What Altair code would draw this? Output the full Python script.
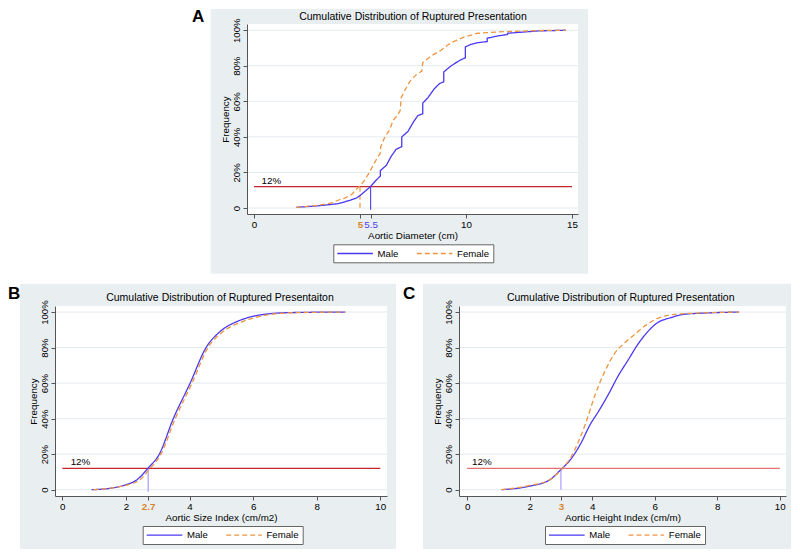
import altair as alt
import pandas as pd

FONT = "Liberation Sans"
BLUE = "#4a38f2"
BLUE_TXT = "#4a3cf0"
ORANGE = "#ee9540"
ORANGE_TXT = "#d9842a"
LILAC = "#a89cff"
RED = "#c3262b"
RED_C = "#e2716d"
GREY_BG = "#e9eff1"
GRID = "#e4ebee"
AXIS = "#555555"

SEXES = ["Male", "Female"]
THRESHOLD = 12
Y_TICKS = [0, 20, 40, 60, 80, 100]

# ---------------- Panel A : Aortic Diameter (cm) ----------------
a_male_x = [2.0, 3.0, 3.96, 4.5, 4.83, 5.0, 5.25, 5.49, 5.75, 5.96, 5.96, 6.24, 6.47, 6.7,
            6.97, 6.97, 7.26, 7.5, 7.73, 7.96, 7.96, 8.2, 8.5, 8.75, 8.95, 8.95, 9.3, 9.7,
            9.97, 9.97, 10.23, 10.55, 11.0, 11.0, 11.5, 11.96, 11.96, 12.74, 13.4, 14.7]
a_male_y = [0.4, 1.2, 2.4, 4.2, 5.6, 7.0, 9.5, 12.0, 15.5, 18.0, 21.0, 24.0, 29.0, 33.0,
            34.5, 40.0, 43.0, 48.0, 52.0, 53.0, 59.0, 62.0, 67.0, 70.0, 71.0, 76.5, 80.0, 83.0,
            84.5, 90.6, 92.0, 93.0, 93.6, 95.5, 96.8, 97.6, 98.3, 99.0, 99.6, 100.0]
a_female_x = [2.0, 3.0, 3.65, 4.0, 4.28, 4.6, 4.95, 5.15, 5.38, 5.6, 5.85, 5.95, 5.98, 6.16,
              6.4, 6.55, 6.79, 6.9, 6.94, 7.1, 7.34, 7.65, 7.92, 7.96, 8.35, 8.82, 9.3, 9.92,
              10.55, 11.8, 13.4, 14.7]
a_female_y = [0.3, 1.5, 2.8, 4.5, 5.6, 7.5, 12.0, 14.5, 18.8, 23.5, 29.0, 30.5, 34.5, 39.6,
              44.0, 49.0, 52.6, 55.0, 62.0, 65.8, 71.0, 75.0, 77.0, 81.8, 85.5, 88.7, 93.0, 96.2,
              98.3, 99.2, 99.8, 100.0]
a_ticks = [0, 5, 5.5, 10, 15]
a_cuts = [5, 5.5]

# ---------------- Panel B : Aortic Size Index (cm/m2) ----------------
b_male_x = [0.92, 1.5, 2.0, 2.34, 2.69, 3.05, 3.49, 4.02, 4.52, 4.96, 5.54, 6.0, 6.5, 7.2, 8.9]
b_male_y = [0.0, 0.8, 2.8, 5.5, 12.0, 20.0, 40.0, 60.0, 80.0, 89.0, 95.0, 97.6, 99.0, 99.7, 100.0]
b_female_x = [0.98, 2.0, 2.44, 2.71, 3.1, 3.55, 4.08, 4.58, 5.02, 5.65, 6.12, 6.64, 7.27, 8.9]
b_female_y = [0.0, 2.5, 5.5, 11.0, 20.0, 40.0, 60.0, 80.0, 88.5, 94.5, 97.2, 98.9, 99.6, 100.0]
b_ticks = [0, 2, 2.7, 4, 6, 8, 10]
b_cuts = [2.7]

# ---------------- Panel C : Aortic Height Index (cm/m) ----------------
c_male_x = [1.1, 2.0, 2.63, 3.01, 3.31, 3.62, 3.94, 4.2, 4.52, 4.83, 5.15, 5.46, 5.78, 6.09,
            6.51, 6.93, 7.56, 8.7]
c_male_y = [0.0, 2.0, 5.4, 11.5, 17.0, 25.5, 36.8, 44.0, 53.7, 64.0, 73.0, 81.8, 89.0, 94.0,
            96.8, 98.7, 99.4, 100.0]
c_female_x = [1.1, 2.0, 2.63, 3.01, 3.31, 3.57, 3.78, 4.1, 4.41, 4.73, 5.04, 5.36, 5.67, 6.09,
              6.62, 7.35, 8.7]
c_female_y = [0.0, 2.4, 5.4, 11.3, 18.0, 27.4, 36.8, 53.7, 66.8, 77.0, 82.7, 87.4, 92.0, 96.4,
              98.7, 99.4, 100.0]
c_ticks = [0, 2, 3, 4, 6, 8, 10]
c_cuts = [3]

LEGEND_PATH = "M-1.25,0H7.65"


def panel(letter, title, xtitle, mx, my, fx, fy, ticks, specials, cuts, cut_styles,
          xmax, lbl_x, cut_bottom, geo, red, interp):
    w, h = geo["w"], geo["h"]
    curves = pd.DataFrame({
        "x": mx + fx,
        "y": my + fy,
        "sex": ["Male"] * len(mx) + ["Female"] * len(fx),
        "order": list(range(len(mx))) + list(range(len(fx))),
    })

    color_cond = [{"test": f"datum.value == {v}", "value": c} for v, c, _ in specials]
    weight_cond = [{"test": f"datum.value == {v}", "value": wt} for v, _, wt in specials]
    xaxis = alt.Axis(
        values=ticks, title=xtitle, grid=False, format=".1~f",
        domainColor=AXIS, tickColor=AXIS, tickSize=4, labelPadding=1.5,
        labelFont=FONT, labelFontSize=9.8, labelOverlap=False, labelFlush=False,
        labelColor={"condition": color_cond, "value": "black"},
        labelFontWeight={"condition": weight_cond, "value": "normal"},
        titleFont=FONT, titleFontSize=9.8, titleFontWeight="normal", titleColor="black",
        titlePadding=1, zindex=1,
    )
    yaxis = alt.Axis(
        values=Y_TICKS, title="Frequency", grid=False,
        labelExpr="datum.value == 0 ? '0' : datum.value + '%'",
        domainColor=AXIS, tickColor=AXIS, tickSize=4, labelPadding=1.5,
        labelFont=FONT, labelFontSize=9.6, labelAngle=270, labelAlign="center",
        labelBaseline="bottom", labelOverlap=False, labelColor="black",
        titleFont=FONT, titleFontSize=9.8, titleFontWeight="normal", titleColor="black",
        titlePadding=1, zindex=1,
    )
    X = lambda f: alt.X(f, type="quantitative",
                        scale=alt.Scale(domain=geo["xdom"], nice=False, zero=False), axis=xaxis)
    Y = lambda f: alt.Y(f, type="quantitative",
                        scale=alt.Scale(domain=geo["ydom"], nice=False, zero=False), axis=yaxis)

    legend = alt.Legend(
        orient="none", legendX=geo["lx"], legendY=geo["ly"], direction="horizontal",
        title=None, fillColor="white", strokeColor="#666666", padding=4, cornerRadius=0,
        symbolType=LEGEND_PATH, symbolSize=64, symbolStrokeWidth=1.3,
        labelFont=FONT, labelFontSize=9.6, labelColor="black", labelOffset=30.3,
        columnPadding=14.5,
    )
    color = alt.Color("sex:N", scale=alt.Scale(domain=SEXES, range=[BLUE, ORANGE]), legend=legend)
    dash = alt.StrokeDash("sex:N", scale=alt.Scale(domain=SEXES, range=[[1, 0], [5, 3]]),
                          legend=legend)

    one = alt.Data(values=[{}])
    layers = []
    layers.append(alt.Chart(one).mark_rect(color=GREY_BG).encode(
        x=alt.value(geo["gl"]), x2=alt.value(geo["gr"]),
        y=alt.value(geo["gt"]), y2=alt.value(geo["gb"])))
    layers.append(alt.Chart(one).mark_rect(color="white").encode(
        x=alt.value(0), x2=alt.value(w), y=alt.value(0), y2=alt.value(h)))
    layers.append(alt.Chart(one).mark_text(
        text=letter, font=FONT, fontSize=17, fontWeight="bold", align="left",
        baseline="alphabetic", color="black").encode(
        x=alt.value(geo["tlx"]), y=alt.value(geo["tly"])))
    layers.append(alt.Chart(one).mark_text(
        text=title, font=FONT, fontSize=10.5, align="center", baseline="middle",
        color="black").encode(x=alt.value(geo["ttx"]), y=alt.value(geo["tty"])))
    layers.append(alt.Chart(pd.DataFrame({"y": Y_TICKS})).mark_rule(
        color=GRID, strokeWidth=1).encode(y=Y("y"), x=alt.value(0), x2=alt.value(w)))
    layers.append(alt.Chart(pd.DataFrame({"x": [0], "x2": [xmax], "y": [THRESHOLD]})).mark_rule(
        color=red, strokeWidth=1.4).encode(x=X("x"), x2="x2", y=Y("y")))
    layers.append(alt.Chart(pd.DataFrame({"x": [lbl_x], "y": [THRESHOLD], "t": ["12%"]})).mark_text(
        font=FONT, fontSize=9.8, align="center", baseline="bottom", dy=-1, color="black").encode(
        x=X("x"), y=Y("y"), text="t:N"))
    for cx, (ccol, cdash) in zip(cuts, cut_styles):
        layers.append(alt.Chart(pd.DataFrame({"x": [cx], "y": [THRESHOLD], "y2": [cut_bottom]}))
                      .mark_rule(color=ccol, strokeDash=cdash, strokeWidth=1.2)
                      .encode(x=X("x"), y=Y("y"), y2="y2"))
    layers.append(alt.Chart(curves).mark_line(strokeWidth=1.3, interpolate=interp).encode(
        x=X("x"), y=Y("y"), color=color, strokeDash=dash, order="order:Q"))
    return alt.layer(*layers).properties(width=w, height=h)


geo_a = dict(w=331, h=190, xdom=[-0.33, 15.283], ydom=[-3.38, 103.5],
             gl=-36.3, gr=341, gt=-15, gb=249.7, tlx=-55, tly=-2,
             ttx=166, tty=-7, lx=86.3, ly=220.3)
geo_b = dict(w=332, h=190, xdom=[-0.23, 10.21], ydom=[-3.55, 103.4],
             gl=-35, gr=341, gt=-22.3, gb=243, tlx=-47, tly=-7,
             ttx=165, tty=-8, lx=87.7, ly=220)
geo_c = dict(w=327, h=190, xdom=[-0.26, 10.2], ydom=[-3.55, 103.4],
             gl=-36, gr=332, gt=-22.3, gb=243, tlx=-56, tly=-7,
             ttx=161.7, tty=-8, lx=86, ly=220)

pA = panel("A", "Cumulative Distribution of Ruptured Presentation", "Aortic Diameter (cm)",
           a_male_x, a_male_y, a_female_x, a_female_y, a_ticks,
           [(5, ORANGE_TXT, "bold"), (5.5, BLUE_TXT, "normal")],
           a_cuts, [(ORANGE, [5, 3]), ("#5a4cf5", [1, 0])], 15, 0.82, -1, geo_a, RED, "linear")
pB = panel("B", "Cumulative Distribution of Ruptured Presentaiton", "Aortic Size Index (cm/m2)",
           b_male_x, b_male_y, b_female_x, b_female_y, b_ticks,
           [(2.7, ORANGE_TXT, "bold")],
           b_cuts, [(LILAC, [1, 0])], 10, 0.57, -1.1, geo_b, RED, "monotone")
pC = panel("C", "Cumulative Distribution of Ruptured Presentation", "Aortic Height Index (cm/m)",
           c_male_x, c_male_y, c_female_x, c_female_y, c_ticks,
           [(3, ORANGE_TXT, "bold")],
           c_cuts, [(LILAC, [1, 0])], 10, 0.47, 0, geo_c, RED_C, "monotone")

# empty spacer that pushes panel A to the right in the top row
spacer = alt.Chart(alt.Data(values=[{}])).mark_text(text="").encode(
    x=alt.value(0), y=alt.value(0)).properties(width=130, height=1)

top = alt.hconcat(spacer, pA, spacing=7).resolve_scale(color="independent", strokeDash="independent")
bottom = alt.hconcat(pB, pC, spacing=7).resolve_scale(color="independent", strokeDash="independent")
chart = (
    alt.vconcat(top, bottom, spacing=9)
    .resolve_scale(color="independent", strokeDash="independent")
    .properties(padding=0, background="white")
    .configure(font=FONT)
    .configure_view(strokeWidth=0)
)
chart.save("out.html", embed_options={"renderer": "svg", "actions": False})
